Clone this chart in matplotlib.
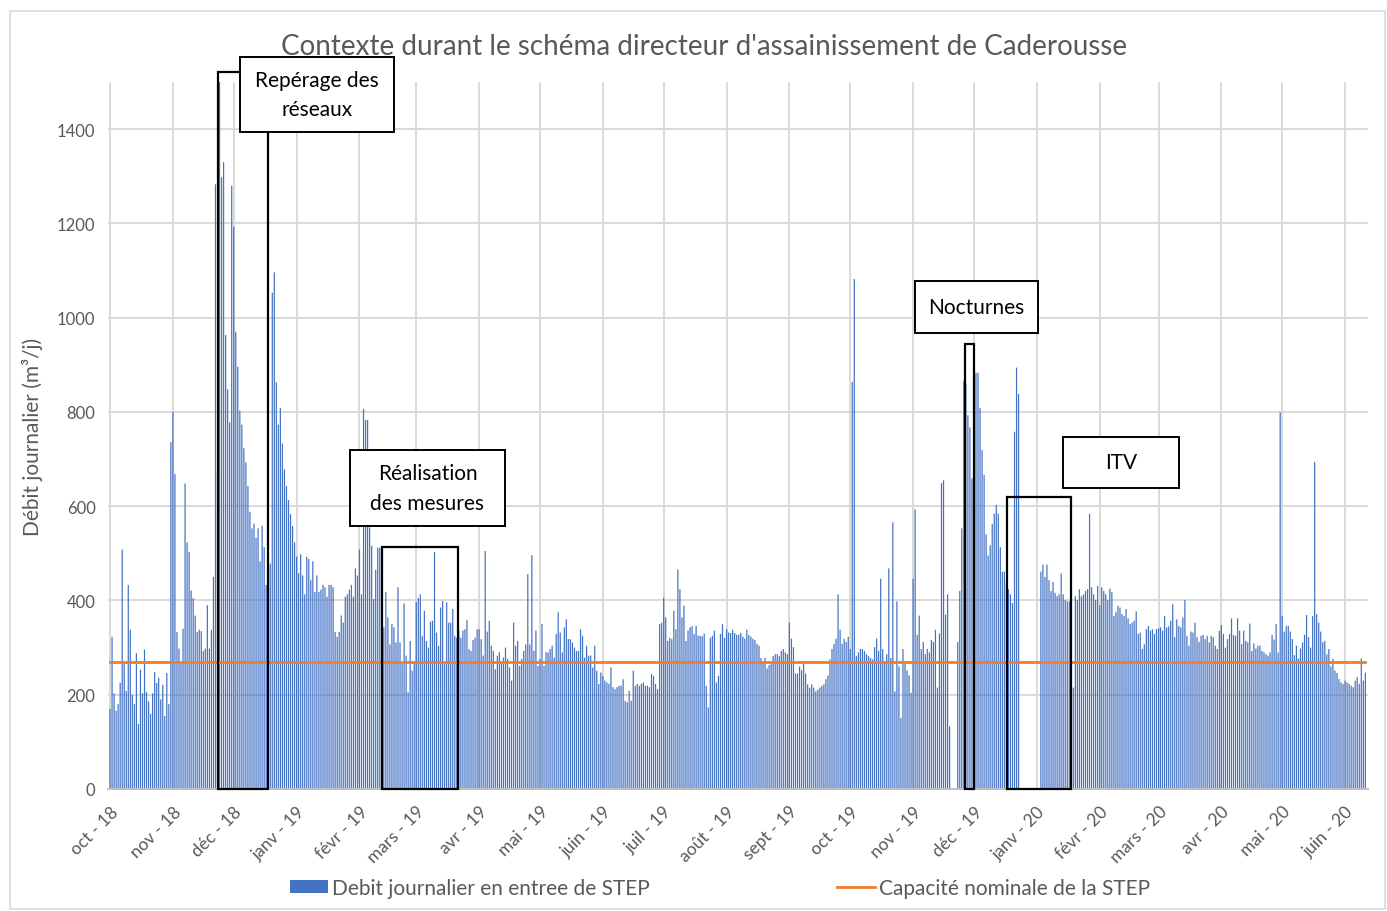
import numpy as np
import pandas as pd
import matplotlib
matplotlib.use("Agg")
import matplotlib.pyplot as plt
import matplotlib.dates as mdates
from matplotlib.patches import Rectangle

W, H = 1387, 912

# daily inflow at the STEP (m3/j), one list per month
oct18 = [170, 323, 203, 166, 180, 225, 508, 265, 208, 433, 338, 200, 180, 288, 138, 253,
         203, 296, 206, 186, 160, 203, 248, 225, 236, 190, 221, 155, 246, 180, 736]
nov18 = [800, 668, 333, 298, 265, 340, 648, 523, 503, 421, 405, 368, 333, 338, 335, 293,
         298, 390, 298, 338, 450, 1283, 673, 1500, 1298, 1330, 963, 848, 778, 1280]
dec18 = [1193, 970, 896, 803, 773, 723, 693, 643, 588, 553, 563, 533, 553, 483, 558, 513,
         433, 663, 478, 1053, 1096, 863, 773, 808, 733, 678, 643, 613, 583, 558, 523]
jan19 = [493, 458, 498, 453, 413, 493, 488, 443, 483, 418, 453, 418, 423, 433, 428, 408,
         433, 433, 428, 333, 323, 333, 368, 353, 408, 413, 423, 433, 408, 468, 453]
feb19 = [508, 413, 806, 783, 783, 555, 516, 403, 465, 512, 512, 465, 343, 418, 364, 307,
         350, 343, 311, 428, 311, 265, 394, 283, 205, 314, 251, 269]
mar19 = [397, 405, 413, 325, 378, 314, 300, 355, 357, 503, 332, 304, 385, 399, 265, 396,
         353, 353, 382, 325, 321, 337, 321, 336, 339, 359, 297, 293, 316, 321, 339]
apr19 = [339, 318, 283, 505, 334, 357, 304, 293, 254, 283, 290, 265, 279, 300, 276, 258,
         230, 353, 304, 314, 261, 276, 293, 307, 456, 307, 496, 293, 336, 261]
may19 = [276, 350, 261, 290, 290, 297, 304, 279, 329, 375, 332, 290, 343, 360, 318, 318,
         311, 300, 293, 293, 339, 325, 279, 304, 283, 283, 258, 304, 251, 223, 247]
jun19 = [240, 230, 226, 223, 258, 216, 212, 216, 219, 219, 233, 187, 184, 208, 187, 251,
         219, 223, 219, 223, 226, 219, 219, 216, 244, 240, 223, 212, 350, 353]
jul19 = [406, 364, 314, 321, 318, 378, 339, 466, 424, 364, 389, 314, 336, 343, 346, 329,
         346, 325, 325, 324, 330, 219, 173, 321, 325, 336, 226, 240, 329, 350, 321]
aug19 = [339, 332, 331, 338, 331, 327, 327, 331, 323, 319, 338, 327, 323, 319, 316, 308,
         304, 278, 271, 278, 256, 263, 267, 282, 286, 286, 282, 293, 297, 290, 286]
sep19 = [353, 319, 301, 245, 245, 260, 252, 267, 245, 222, 215, 222, 215, 207, 211, 215,
         219, 222, 233, 241, 275, 297, 308, 319, 413, 338, 308, 319, 312, 323]
oct19 = [297, 864, 1082, 282, 290, 297, 297, 293, 286, 282, 278, 275, 301, 319, 293, 446,
         297, 271, 286, 468, 278, 566, 207, 398, 260, 151, 297, 271, 252, 241, 204]
nov19 = [446, 593, 327, 368, 297, 312, 286, 297, 290, 316, 312, 338, 215, 330, 649, 655,
         370, 413, 133, 0, 0, 0, 312, 420, 553, 866, 860, 793, 767, 659]
dec19 = [655, 883, 883, 808, 719, 666, 540, 495, 517, 562, 584, 603, 584, 513, 461, 461,
         439, 424, 413, 394, 758, 894, 838, 0, 0, 0, 0, 0, 0, 0, 0]
jan20 = [0, 0, 461, 476, 450, 476, 443, 420, 439, 416, 409, 413, 457, 413, 401, 398,
         398, 394, 215, 409, 401, 424, 409, 413, 420, 424, 584, 428, 413, 401, 431]
feb20 = [390, 428, 420, 413, 401, 425, 418, 367, 376, 389, 385, 371, 367, 382, 362, 350,
         353, 357, 377, 329, 332, 297, 307, 339, 346, 336, 339, 329, 339]
mar20 = [341, 343, 336, 367, 343, 345, 357, 392, 322, 360, 346, 343, 364, 401, 325, 304,
         334, 332, 353, 322, 312, 325, 327, 318, 325, 311, 325, 322, 304, 297, 336]
apr20 = [348, 329, 300, 318, 329, 362, 327, 325, 362, 336, 307, 336, 314, 311, 351, 293,
         309, 298, 304, 304, 293, 290, 286, 283, 290, 327, 317, 350, 290, 799]
may20 = [367, 334, 346, 346, 334, 318, 284, 304, 277, 298, 311, 327, 369, 322, 300, 367,
         694, 371, 353, 334, 311, 314, 286, 297, 260, 276, 251, 246, 233, 226, 223]
jun20 = [230, 226, 223, 219, 216, 230, 237, 223, 277, 230, 247]

month_labels = ["oct - 18", "nov - 18", "déc - 18", "janv - 19", "févr - 19", "mars - 19",
                "avr - 19", "mai - 19", "juin - 19", "juil - 19", "août - 19", "sept - 19",
                "oct - 19", "nov - 19", "déc - 19", "janv - 20", "févr - 20", "mars - 20",
                "avr - 20", "mai - 20", "juin - 20"]

capacity = 270  # capacité nominale (m3/j)

# campaigns: (start, end, height in m3/j)
campaigns = [
    ("2018-11-23 07:00", "2018-12-17 21:00", 1522),
    ("2019-02-12 02:00", "2019-03-21 14:00", 513),
    ("2019-11-26 14:00", "2019-12-01 00:00", 944),
    ("2019-12-17 07:00", "2020-01-17 22:00", 619),
]
# label boxes in pixels: x0, y0, x1, y1, text
labels = [
    (240, 58, 394, 133, "Repérage des\nréseaux"),
    (350, 451, 505, 527, "Réalisation\ndes mesures"),
    (915, 282, 1038, 334, "Nocturnes"),
    (1063, 438, 1179, 489, "ITV"),
]

GREY = "#595959"
GRID = "#D9D9D9"


def px_box(fig, x0, y0, x1, y1, **kw):
    r = Rectangle((x0 / W, 1 - y1 / H), (x1 - x0) / W, (y1 - y0) / H,
                  transform=fig.transFigure, **kw)
    fig.add_artist(r)
    return r


def main():
    plt.rcParams["font.family"] = ["Lato", "DejaVu Sans"]

    values = np.concatenate([oct18, nov18, dec18, jan19, feb19, mar19, apr19, may19, jun19,
                             jul19, aug19, sep19, oct19, nov19, dec19, jan20, feb20, mar20,
                             apr20, may20, jun20])
    dates = pd.date_range("2018-10-01", periods=len(values), freq="D")
    x = mdates.date2num(dates.values)

    fig = plt.figure(figsize=(W / 100, H / 100), dpi=100)
    ax = fig.add_axes([108 / W, 1 - 790 / H, (1368 - 108) / W, (790 - 83) / H])

    bars = ax.bar(x, values, width=0.6, color="#4472C4", linewidth=0, snap=False,
                  antialiased=True, label="Debit journalier en entree de STEP")
    cap, = ax.plot([x[0], x[-1]], [capacity, capacity], color="#ED7D31", lw=2,
                   label="Capacité nominale de la STEP", zorder=3)

    ax.set_xlim(x[0] - 1, x[-1] + 1.3)
    ax.set_ylim(0, 1500)
    ax.set_yticks(np.arange(0, 1401, 200))
    month_starts = mdates.date2num(pd.date_range("2018-10-01", "2020-06-01", freq="MS").values)
    ax.set_xticks(month_starts)
    ax.set_xticklabels(month_labels, rotation=45, ha="right", va="top",
                       rotation_mode="anchor")
    ax.tick_params(axis="both", length=0, colors=GREY)
    ax.tick_params(axis="x", pad=10, labelsize=12.5)
    ax.tick_params(axis="y", pad=9, labelsize=12)
    ax.grid(True, color=GRID, lw=1.4)
    ax.set_axisbelow(True)
    for s in ["top", "right", "left"]:
        ax.spines[s].set_visible(False)
    ax.spines["bottom"].set_color("#BFBFBF")
    ax.spines["bottom"].set_linewidth(1.4)

    ax.set_ylabel("Débit journalier (m³/j)", color=GREY, fontsize=15, labelpad=10)

    # campaign frames
    for start, end, h in campaigns:
        x0 = mdates.date2num(pd.Timestamp(start))
        x1 = mdates.date2num(pd.Timestamp(end))
        ax.add_patch(Rectangle((x0, 0), x1 - x0, h, fill=False, edgecolor="black",
                               lw=1.6, clip_on=False, zorder=4))

    for x0, y0, x1, y1, txt in labels:
        px_box(fig, x0, y0, x1, y1, facecolor="white", edgecolor="black", lw=1.4, zorder=5)
        fig.text((x0 + x1) / 2 / W, 1 - (y0 + y1) / 2 / H, txt, ha="center", va="center",
                 fontsize=15, color="black", linespacing=1.6, zorder=6)

    fig.text(704 / W, 1 - 47 / H,
             "Contexte durant le schéma directeur d'assainissement de Caderousse",
             ha="center", va="center", fontsize=20, color=GREY)

    fig.legend([bars, cap], [bars.get_label(), cap.get_label()], loc="center",
               bbox_to_anchor=(720 / W, 1 - 889 / H), ncol=2, frameon=False,
               fontsize=15, labelcolor=GREY, handlelength=1.8, handleheight=0.6,
               handletextpad=0.2, columnspacing=9.0)

    # chart area border
    px_box(fig, 10, 12, 1385, 910, fill=False, edgecolor=GRID, lw=1.2, zorder=0)

    fig.savefig("out.png", dpi=100)


if __name__ == "__main__":
    main()
